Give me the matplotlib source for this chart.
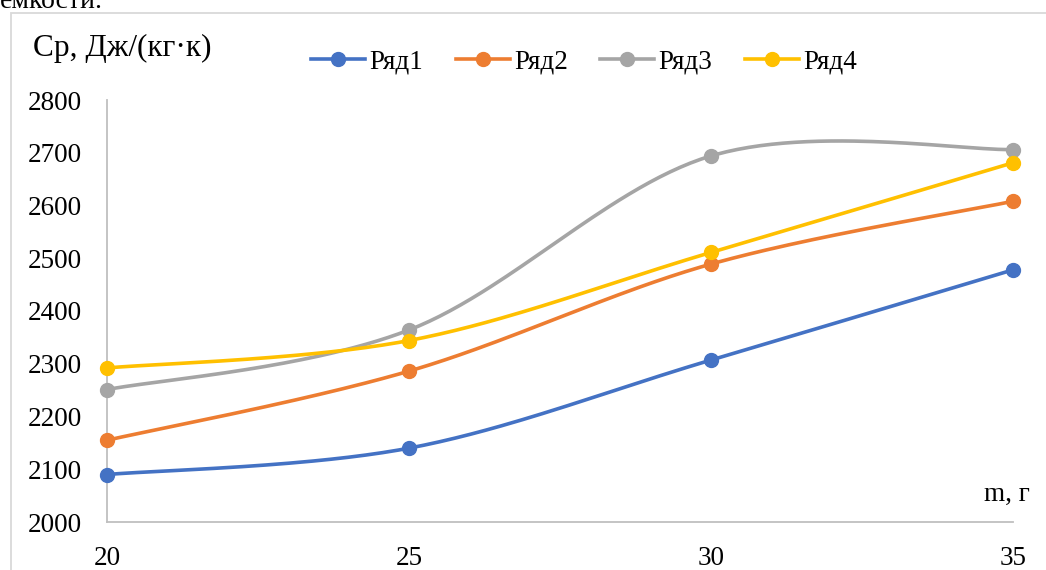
import numpy as np
import matplotlib
matplotlib.use("Agg")
import matplotlib.pyplot as plt
from matplotlib.patches import Rectangle

x_vals = [20, 25, 30, 35]
series_names = ["Ряд1", "Ряд2", "Ряд3", "Ряд4"]
s1 = [2090, 2140, 2307, 2478]
s2 = [2155, 2286, 2489, 2608]
s3 = [2251, 2364, 2694, 2706]
s4 = [2292, 2344, 2511, 2681]
colors = ["#4472C4", "#ED7D31", "#A5A5A5", "#FFC000"]
x_ticks = [20, 25, 30, 35]
y_ticks = [2000, 2100, 2200, 2300, 2400, 2500, 2600, 2700, 2800]

plt.rcParams['font.family'] = ['Liberation Serif', 'DejaVu Serif']


def smooth(xs, ys, n=60):
    P = np.column_stack([xs, ys]).astype(float)
    out = []
    m = len(P)
    for i in range(m - 1):
        p0 = P[i - 1] if i > 0 else P[i]
        p1 = P[i]
        p2 = P[i + 1]
        p3 = P[i + 2] if i + 2 < m else P[i + 1]
        c1 = p1 + (p2 - p0) / 6.0
        c2 = p2 - (p3 - p1) / 6.0
        t = np.linspace(0, 1, n)[:, None]
        b = ((1 - t) ** 3) * p1 + 3 * ((1 - t) ** 2) * t * c1 + 3 * (1 - t) * t ** 2 * c2 + t ** 3 * p2
        out.append(b if i == 0 else b[1:])
    B = np.vstack(out)
    return B[:, 0], B[:, 1]


W, H = 1046, 570
fig = plt.figure(figsize=(W / 100, H / 100), dpi=100)
ax = fig.add_axes([107 / W, 1 - 522 / H, (1013 - 107) / W, (522 - 100) / H])

for name, ys, c in zip(series_names, [s1, s2, s3, s4], colors):
    sx, sy = smooth(x_vals, ys)
    ax.plot(sx, sy, color=c, lw=2.6, solid_capstyle='round', clip_on=False)
    ax.plot(x_vals, ys, 'o', color=c, ms=10, zorder=3, clip_on=False)
    ax.plot([], [], '-o', color=c, lw=2.6, ms=10, label=name)

ax.set_xlim(20, 35)
ax.set_ylim(2000, 2800)
ax.set_xticks(x_ticks)
ax.set_yticks(y_ticks)
ax.tick_params(axis='both', length=0, labelsize=19.5)
ax.tick_params(axis='y', pad=18)
ax.tick_params(axis='x', pad=17)
for s in ['top', 'right']:
    ax.spines[s].set_visible(False)
for s in ['left', 'bottom']:
    ax.spines[s].set_color('#BFBFBF')
    ax.spines[s].set_linewidth(1.3)

leg = fig.legend(loc='center', bbox_to_anchor=(584 / W, 1 - 62 / H), ncol=4,
                 frameon=False, fontsize=19.5, handlelength=2.0,
                 handletextpad=0.15, columnspacing=1.2)

fig.text(33 / W, 1 - 48 / H, "Ср, Дж/(кг·к)", fontsize=22.5, va='center', ha='left')
fig.text(1030 / W, 1 - 494 / H, "m, г", fontsize=19.5, va='center', ha='right')
fig.text(0, 1 - 2 / H, "емкости.", fontsize=20, va='center', ha='left')

fig.patches.append(Rectangle((11 / W, -0.1), 1.2, 1 - 13 / H + 0.1, transform=fig.transFigure,
                             fill=False, edgecolor='#D9D9D9', lw=1.3))

fig.savefig("out.png", dpi=100)
